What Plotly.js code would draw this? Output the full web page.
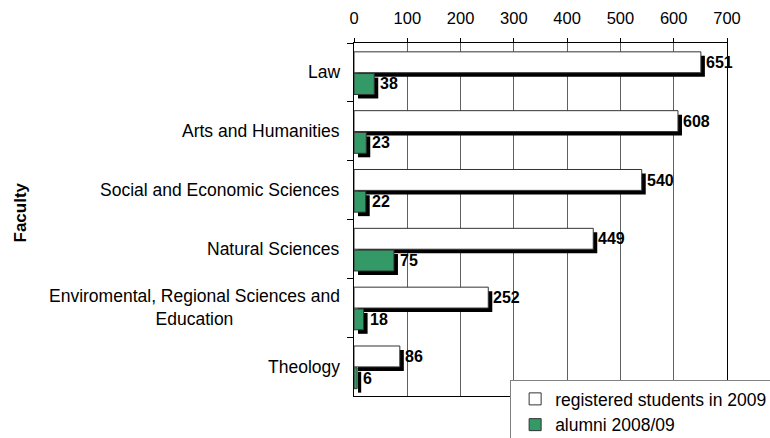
<!DOCTYPE html>
<html>
<head>
<meta charset="utf-8">
<script src="https://cdn.plot.ly/plotly-3.0.1.min.js"></script>
<style>html,body{margin:0;padding:0;background:#fff;}#chart{width:770px;height:438px;}</style>
</head>
<body>
<div id="chart"></div>
<script>
// ---- data ----
const categories = [
  'Law',
  'Arts and Humanities',
  'Social and Economic Sciences',
  'Natural Sciences',
  'Enviromental, Regional Sciences and<br>Education',
  'Theology'
];
const registered = [651, 608, 540, 449, 252, 86];
const alumni = [38, 23, 22, 75, 18, 6];
const seriesNames = ['registered students in 2009', 'alumni 2008/09'];
const xTicks = [0, 100, 200, 300, 400, 500, 600, 700];

// ---- style constants ----
const FONT = 'Arial, "Liberation Sans", sans-serif';
const SHADOW_X = 7.5;    // shadow shift in axis units (~4px)
const SHADOW_Y = 0.068;  // shadow shift in category units (~4px)
const BAR_W = 0.355;
const OFF_REG = -0.35;
const OFF_ALU = 0.02;

const traces = [
  { type: 'bar', orientation: 'h', y: categories, x: registered, base: SHADOW_X,
    width: BAR_W, offset: OFF_REG + SHADOW_Y, marker: { color: '#000', line: { width: 0 } },
    showlegend: false, hoverinfo: 'skip' },
  { type: 'bar', orientation: 'h', y: categories, x: alumni, base: SHADOW_X,
    width: BAR_W, offset: OFF_ALU + SHADOW_Y, marker: { color: '#000', line: { width: 0 } },
    showlegend: false, hoverinfo: 'skip' },
  { type: 'bar', orientation: 'h', y: categories, x: registered, name: seriesNames[0],
    width: BAR_W, offset: OFF_REG, legendgroup: 'a',
    marker: { color: '#ffffff', line: { color: '#333333', width: 1 } } },
  { type: 'bar', orientation: 'h', y: categories, x: alumni, name: seriesNames[1],
    width: BAR_W, offset: OFF_ALU, legendgroup: 'b',
    marker: { color: '#339966', line: { color: '#333333', width: 1 } } }
];

const annotations = [];
categories.forEach((c, i) => {
  annotations.push({ xref: 'paper', yref: 'y', x: 0, y: c, xanchor: 'right', yanchor: 'middle',
    xshift: -12, align: 'center', showarrow: false, text: c,
    font: { family: FONT, size: 17.5, color: '#000' } });
  annotations.push({ xref: 'x', yref: 'y', x: registered[i] + SHADOW_X, y: c, xanchor: 'left', yanchor: 'middle',
    xshift: -1, yshift: 10, showarrow: false, text: '<b>' + registered[i] + '</b>',
    font: { family: FONT, size: 16, color: '#000' } });
  annotations.push({ xref: 'x', yref: 'y', x: alumni[i] + SHADOW_X, y: c, xanchor: 'left', yanchor: 'middle',
    xshift: 0, yshift: -11.5, showarrow: false, text: '<b>' + alumni[i] + '</b>',
    font: { family: FONT, size: 16, color: '#000' } });
});
annotations.push({ xref: 'paper', yref: 'paper', x: 0, y: 0.5, xshift: -334, yshift: 7,
  xanchor: 'center', yanchor: 'middle', textangle: -90, showarrow: false,
  text: '<b>Faculty</b>', font: { family: FONT, size: 17, color: '#000' } });

const layout = {
  width: 770, height: 438,
  margin: { l: 354, r: 43.3, t: 43, b: 42, pad: 0, autoexpand: false },
  paper_bgcolor: '#fff', plot_bgcolor: '#fff',
  barmode: 'overlay',
  font: { family: FONT, size: 16, color: '#000' },
  xaxis: {
    range: [0, 700], side: 'top', tickmode: 'array', tickvals: xTicks, ticktext: xTicks.map(String),
    ticks: 'outside', ticklen: 4, tickcolor: '#000', showline: true, linecolor: '#000', linewidth: 1,
    mirror: true, showgrid: true, gridcolor: '#606060', gridwidth: 1, zeroline: false,
    tickfont: { family: FONT, size: 16.5, color: '#000' }, ticklabelstandoff: 7, fixedrange: true,
    automargin: false
  },
  yaxis: {
    type: 'category', categoryorder: 'array', categoryarray: categories, autorange: 'reversed',
    ticks: 'outside', tickson: 'boundaries', ticklen: 6, tickcolor: '#000',
    showticklabels: false, showline: true, linecolor: '#000', linewidth: 1, mirror: true,
    showgrid: false, zeroline: false, fixedrange: true, automargin: false
  },
  legend: {
    x: 0.4186, y: 0.0453, xanchor: 'left', yanchor: 'top',
    bgcolor: '#fff', bordercolor: '#808080', borderwidth: 1,
    font: { family: FONT, size: 17.5, color: '#000' },
    traceorder: 'grouped', tracegroupgap: 0, indentation: 4
  },
  annotations: annotations,
  showlegend: true
};

Plotly.newPlot('chart', traces, layout, { staticPlot: true, displayModeBar: false });
</script>
</body>
</html>
